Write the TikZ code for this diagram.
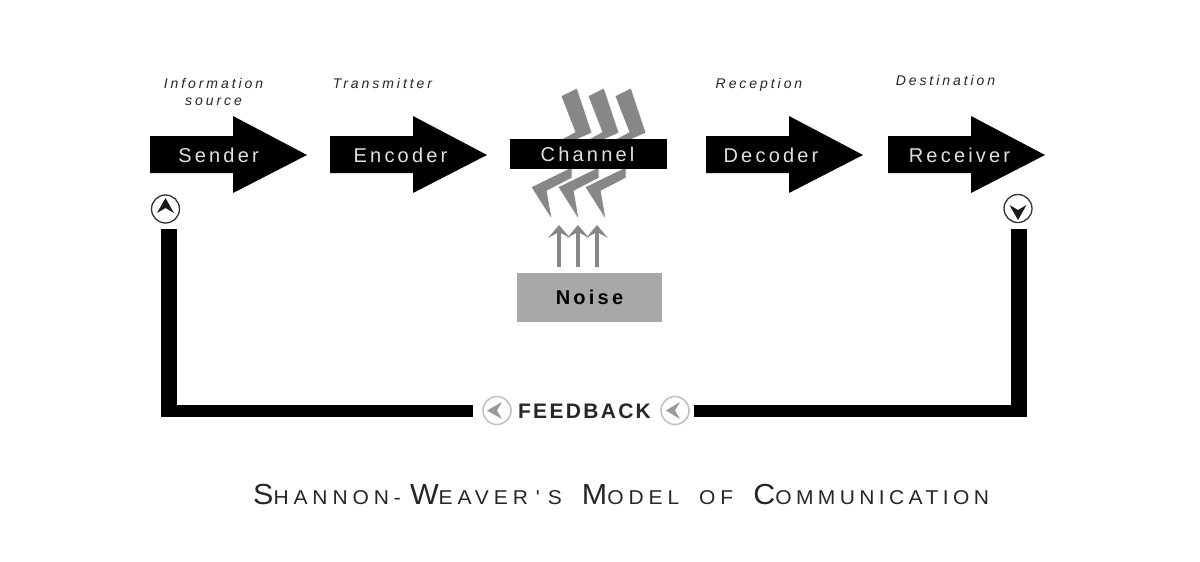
\documentclass[tikz,border=0pt]{standalone}
\usepackage{fontspec}
\usetikzlibrary{calc}
\setmainfont{Liberation Sans}
\newfontfamily\boxfont[LetterSpace=16]{Liberation Sans}
\newfontfamily\capfont[LetterSpace=24.5,FakeStretch=1.05]{Liberation Sans}
\newfontfamily\capfontb[LetterSpace=22,FakeStretch=1.05]{Liberation Sans}
\newfontfamily\fbfont[LetterSpace=11]{Liberation Sans}
\newfontfamily\tagfont[LetterSpace=21]{Liberation Sans}
\newcommand{\flowarrow}[3]{\fill[black] (#1,136) -- ++(83,0) -- ++(0,-20) -- (#1+157,155) -- (#1+83,193) -- (#1+83,173) -- (#1,173) -- cycle;
  \node[boxlabel] (#2) at (#3,155) {#2};}
\newcommand{\bolt}[1]{\fill[boltgray,draw=white,line width=0.6pt,shift={(#1,0)}] (561,96) -- (577,88) -- (592,133) -- (578,139) -- (572,160) -- (572,178) -- (547,191) -- (552,220) -- (531,187) -- (570,168) -- (565,150) -- (562,139) -- (575,132) -- cycle;}
\newcommand{\mysc}[2]{{\fontsize{29}{29}\selectfont #1}{\fontsize{20}{20}\selectfont #2}}
\tikzset{
  boxlabel/.style={text=white!88!black,font=\boxfont\fontsize{20}{20}\selectfont,inner sep=0pt},
  taglabel/.style={text=black!85,font=\tagfont\itshape\fontsize{14}{14}\selectfont,inner sep=0pt,align=center},
  darkbar/.style={draw=black,line cap=butt},
  noisearrow/.style={draw=arrowgray,line width=4pt},
  ringdark/.style={circle,draw=black!80,line width=1.3pt,fill=white,minimum size=28pt,inner sep=0pt},
  ringgray/.style={circle,draw=black!25,line width=1.5pt,fill=white,minimum size=28pt,inner sep=0pt},
}
\definecolor{boltgray}{gray}{0.53}
\definecolor{arrowgray}{gray}{0.53}
\definecolor{noisegray}{gray}{0.66}
\begin{document}
\begin{tikzpicture}[x=1pt,y=-1pt]
\useasboundingbox[fill=white] (0,0) rectangle (1200,562);
% bolts behind channel
\bolt{54}\bolt{27}\bolt{0}
\flowarrow{150}{Sender}{218.5}
\flowarrow{330}{Encoder}{400.5}
\flowarrow{706}{Decoder}{771}
\flowarrow{888}{Receiver}{959.5}
\fill[black] (510,139) rectangle (667,169);
\node[boxlabel] (Channel) at (587.5,154) {Channel};
% labels
\node[taglabel] (info) at (213.5,91.5) {Information\\[3pt]source};
\node[taglabel] (trans) at (382.5,83) {Transmitter};
\node[taglabel] (recep) at (759,84.5) {Reception};
\node[taglabel] (dest) at (945.5,80) {Destination};
% noise
\node[fill=noisegray,minimum width=145pt,minimum height=49pt,inner sep=0pt,font=\boxfont\bfseries\fontsize{20}{20}\selectfont,text=black] (noise) at (589.5,297.5) {\raisebox{-1.5pt}{Noise}};
\coordinate (n1) at (559,267); \coordinate (n2) at (578,267); \coordinate (n3) at (597,267);
\coordinate (t1) at (559,232); \coordinate (t2) at (578,232); \coordinate (t3) at (597,232);
\foreach \k in {1,2,3}{
  \draw[noisearrow] (n\k) -- (t\k);
  \fill[arrowgray] ($(t\k)+(0,-7)$) -- ($(t\k)+(11,6)$) -- (t\k) -- ($(t\k)+(-11,6)$) -- cycle;
}
% rings
\node[ringdark] (up) at (165.5,209) {};
\fill[black!90] (157,213) -- (165.5,198) -- (174,213) -- (165.5,208) -- cycle;
\node[ringdark] (down) at (1018,208.5) {};
\fill[black!90] (1009.5,205) -- (1018,220) -- (1026.5,205) -- (1018,210) -- cycle;
\node[ringgray] (fbl) at (497,410.5) {};
\fill[black!40] (502,402) -- (487,410.5) -- (502,419) -- (497,410.5) -- cycle;
\node[ringgray] (fbr) at (675,410.5) {};
\fill[black!40] (680,402) -- (666,410.5) -- (680,419) -- (675,410.5) -- cycle;
\node[inner sep=0pt,font=\fbfont\bfseries\fontsize{21}{21}\selectfont,text=black!85] (fb) at (584.5,411) {FEEDBACK};
% feedback loop
\coordinate (ltop) at (169,229); \coordinate (lcorner) at (169,417);
\coordinate (lstart) at (161,411); \coordinate (lend) at (473,411);
\coordinate (rtop) at (1019,229); \coordinate (rcorner) at (1019,417);
\coordinate (rstart) at (1027,411); \coordinate (rend) at (694,411);
\draw[darkbar,line width=16pt] (ltop) -- (lcorner);
\draw[darkbar,line width=12pt] (lstart) -- (lend);
\draw[darkbar,line width=16pt] (rtop) -- (rcorner);
\draw[darkbar,line width=12pt] (rstart) -- (rend);
% title
\node[inner sep=0pt,anchor=base west,font=\capfont,text=black!85] (title) at (253,504) {\mysc{S}{HANNON\hspace{5pt}-\hspace{9pt}}\mysc{W}{EAVER\hspace{8pt}'\hspace{8pt}S}\hspace{20pt}\mysc{M}{ODEL}\hspace{20pt}\mysc{}{OF}\hspace{20pt}{\capfontb\mysc{C}{OMMUNICATION}}};
\end{tikzpicture}
\end{document}
